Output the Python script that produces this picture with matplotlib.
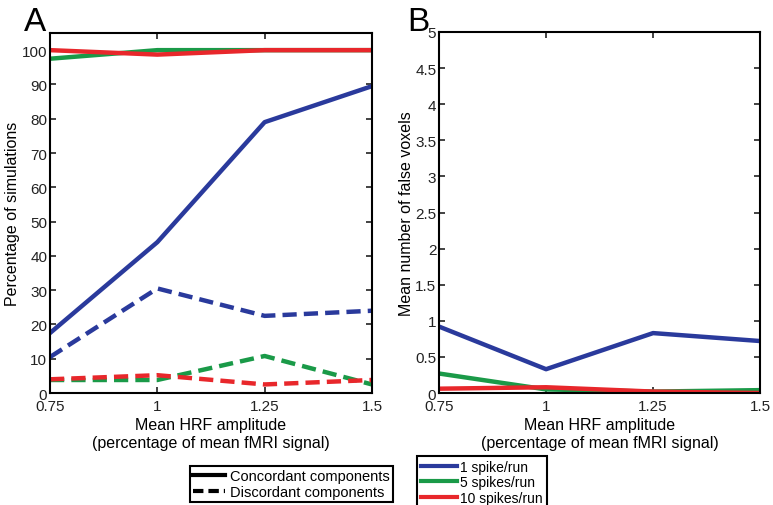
import numpy as np
import matplotlib
matplotlib.use('Agg')
import matplotlib.pyplot as plt
from matplotlib.lines import Line2D

amp = [0.75, 1.0, 1.25, 1.5]
xticks = [0.75, 1, 1.25, 1.5]
xticklabels = ['0.75', '1', '1.25', '1.5']

# Panel A: percentage of simulations
conc_1 = [17.5, 44, 79, 89.5]
conc_5 = [97.5, 100, 100, 100]
conc_10 = [100, 98.7, 100, 100]
disc_1 = [10.5, 30.5, 22.5, 24]
disc_5 = [3.8, 3.8, 10.8, 2.5]
disc_10 = [4, 5.2, 2.5, 3.8]

# Panel B: mean number of false voxels
fv_1 = [0.92, 0.33, 0.83, 0.72]
fv_5 = [0.27, 0.05, 0.02, 0.04]
fv_10 = [0.06, 0.08, 0.02, 0.0]

series_labels = ['1 spike/run', '5 spikes/run', '10 spikes/run']
BLUE, GREEN, RED = '#2a3a9c', '#1a9a48', '#e8272b'

plt.rcParams['font.family'] = 'Liberation Sans'
fig = plt.figure(figsize=(7.73, 5.06), dpi=100)
axA = fig.add_axes([0.0647, 0.2213, 0.4165, 0.7115])
axB = fig.add_axes([0.568, 0.2213, 0.4153, 0.7135])

lw = 3.2
dash = (0, (3.2, 1.6))
axA.plot(amp, disc_1, color=BLUE, lw=lw, ls=dash)
axA.plot(amp, disc_5, color=GREEN, lw=lw, ls=dash)
axA.plot(amp, disc_10, color=RED, lw=lw, ls=dash)
axA.plot(amp, conc_1, color=BLUE, lw=lw)
axA.plot(amp, conc_5, color=GREEN, lw=lw)
axA.plot(amp, conc_10, color=RED, lw=lw)
axA.set_ylim(0, 105)
axA.set_yticks(np.arange(0, 101, 10))
axA.set_ylabel('Percentage of simulations', fontsize=11.5, labelpad=1)

axB.plot(amp, fv_1, color=BLUE, lw=lw)
axB.plot(amp, fv_5, color=GREEN, lw=lw)
axB.plot(amp, fv_10, color=RED, lw=lw)
axB.set_ylim(0, 5)
axB.set_yticks(np.arange(0, 5.01, 0.5))
axB.set_yticklabels(['0', '0.5', '1', '1.5', '2', '2.5', '3', '3.5', '4', '4.5', '5'])
axB.set_ylabel('Mean number of false voxels', fontsize=11.5, labelpad=1)

for ax in (axA, axB):
    ax.set_xlim(0.75, 1.5)
    ax.set_xticks(xticks)
    ax.set_xticklabels(xticklabels)
    ax.set_xlabel('Mean HRF amplitude\n(percentage of mean fMRI signal)', fontsize=11.5,
                  labelpad=3, linespacing=1.3)
    ax.tick_params(direction='in', top=True, right=True, labelsize=11,
                   length=4, width=1.2, pad=2, colors='#222222')
    ax.tick_params(axis='x', pad=4)
    for s in ax.spines.values():
        s.set_linewidth(1.5)

fig.text(0.031, 0.938, 'A', fontsize=24)
fig.text(0.527, 0.938, 'B', fontsize=24)

style_handles = [Line2D([], [], color='black', lw=3),
                 Line2D([], [], color='black', lw=3, ls=(0, (2.5, 1.2)))]
leg1 = fig.legend(style_handles, ['Concordant components', 'Discordant components'],
           loc='upper left', bbox_to_anchor=(0.236, 0.092), frameon=True,
           fontsize=10.5, handlelength=2.2, handletextpad=0.3, labelspacing=0.1,
           borderpad=0.25, fancybox=False, edgecolor='black', framealpha=1)
leg1.get_frame().set_linewidth(1.5)

color_handles = [Line2D([], [], color=c, lw=3) for c in (BLUE, GREEN, RED)]
leg2 = fig.legend(color_handles, series_labels,
           loc='upper left', bbox_to_anchor=(0.531, 0.110), frameon=True,
           fontsize=10, handlelength=2.6, handletextpad=0.25, labelspacing=0.1,
           borderpad=0.25, fancybox=False, edgecolor='black', framealpha=1)
leg2.get_frame().set_linewidth(1.5)

fig.savefig('out.png', dpi=100)
